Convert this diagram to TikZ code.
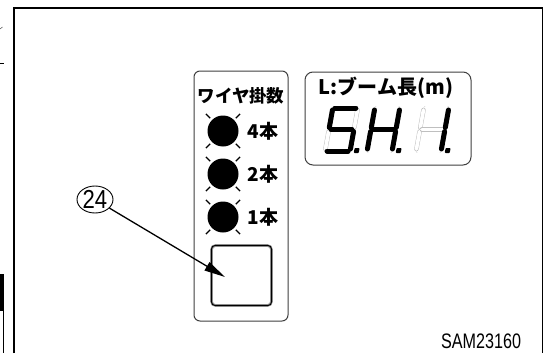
\documentclass[tikz,border=0pt]{standalone}
\usepackage{fontspec}
\setmainfont{Liberation Sans}
\newfontfamily\jp{Noto Sans CJK JP}
\usetikzlibrary{arrows.meta,shapes.geometric}
\tikzset{
  panelline/.style={draw=black!75, line width=1pt, rounded corners=6pt},
  ledlamp/.style={circle, fill=black, minimum size=31pt, inner sep=0pt},
  ledray/.style={line width=1.2pt, black},
  jplabel/.style={font=\jp\bfseries\fontsize{19}{21}\selectfont, inner sep=0pt},
  jptitle/.style={font=\jp\bfseries\fontsize{17.5}{20}\selectfont, inner sep=0pt},
  segon/.style={line width=5pt, line cap=round, black},
  segoff/.style={draw=black!25, line width=0.45pt, double=white, double distance=3.6pt, line cap=round},
  sega/.style={insert path={(3,1) -- (24,1)}},
  segb/.style={insert path={(26,3) -- (26,20.5)}},
  segc/.style={insert path={(26,24.5) -- (26,42)}},
  segd/.style={insert path={(3,44) -- (24,44)}},
  sege/.style={insert path={(1,24.5) -- (1,42)}},
  segf/.style={insert path={(1,3) -- (1,20.5)}},
  segg/.style={insert path={(3,22.5) -- (24,22.5)}},
}
\newcommand\sevendigit[2]{%
  \begin{scope}[shift={(#1)}, xslant=0.18]
    \foreach \s in {a,b,c,d,e,f,g} \draw[segoff, seg\s];
    \foreach \s in {#2} \draw[segon, seg\s];
    \fill[rounded corners=0.8pt] (30,41) rectangle (35,46);
  \end{scope}}
\begin{document}
\begin{tikzpicture}[x=1pt,y=-1pt]
\useasboundingbox (0,0) rectangle (545,353);
\fill[white] (0,0) rectangle (545,353);
% outer frame
\draw[line width=2pt] (14,353) -- (14,8);
\draw[line width=1.4pt] (13,8) -- (542.5,8);
\draw[line width=1pt] (542.5,8) -- (542.5,353);
% left-edge fragments
\draw[black!60, line width=0.6pt] (0,29) -- (2.5,27);
\draw[line width=0.9pt] (0,63) -- (3.5,63);
\fill (0,274) rectangle (4.2,310);
\draw[line width=0.9pt] (0,310) -- (3.5,310) -- (3.5,353);

% left panel
\draw[panelline] (194,71) rectangle (288,321);
\node[jptitle] (title1) at (241,96) {ワイヤ掛数};
\foreach \n/\y/\t in {4/131/4本, 2/174/2本, 1/217/1本}{
  \node[ledlamp] (led\n) at (223,\y) {};
  \foreach \a in {45,135,225,315}
    \draw[ledray] ([shift={(\a:2.5pt)}]led\n.\a) -- ([shift={(\a:8.5pt)}]led\n.\a);
  \node[jplabel] (lab\n) at (263,\y) {\t};
}
% push button
\draw[black!45, line width=2.6pt, rounded corners=4pt] (211.5,245.5) rectangle (271.5,305.5);
\draw[black, line width=0.9pt, rounded corners=3.5pt] (211.5,245.5) rectangle (271.5,305.5);

% right panel
\draw[panelline, rounded corners=8pt] (305,72) rectangle (471,165);
\node[jptitle, font=\jp\bfseries\fontsize{20}{22}\selectfont] (title2) at (386,88) {L:ブーム長(m)};
\draw[draw=black!55, line width=0.5pt, double=white, double distance=1.2pt] (311,100) rectangle (465,159);
\sevendigit{332,107}{a,f,g,c,d}
\sevendigit{374,107}{f,b,g,e,c}
\sevendigit{423,107}{b,c}

% callout
\node[draw, ellipse, line width=0.9pt, minimum width=36pt, minimum height=27pt, inner sep=0pt,
      font=\fontsize{26}{28}\selectfont] (c24) at (95,199.5) {\scalebox{0.85}[1]{24}};
\coordinate (tip) at (225,277);
\draw[line width=1.3pt, -{Triangle[length=21pt,width=9.5pt]}] (c24) -- (tip);

% drawing number
\node[font=\fontsize{21}{23}\selectfont, inner sep=0pt] (code) at (481,341.5) {\scalebox{0.77}[1]{SAM23160}};
\end{tikzpicture}
\end{document}
